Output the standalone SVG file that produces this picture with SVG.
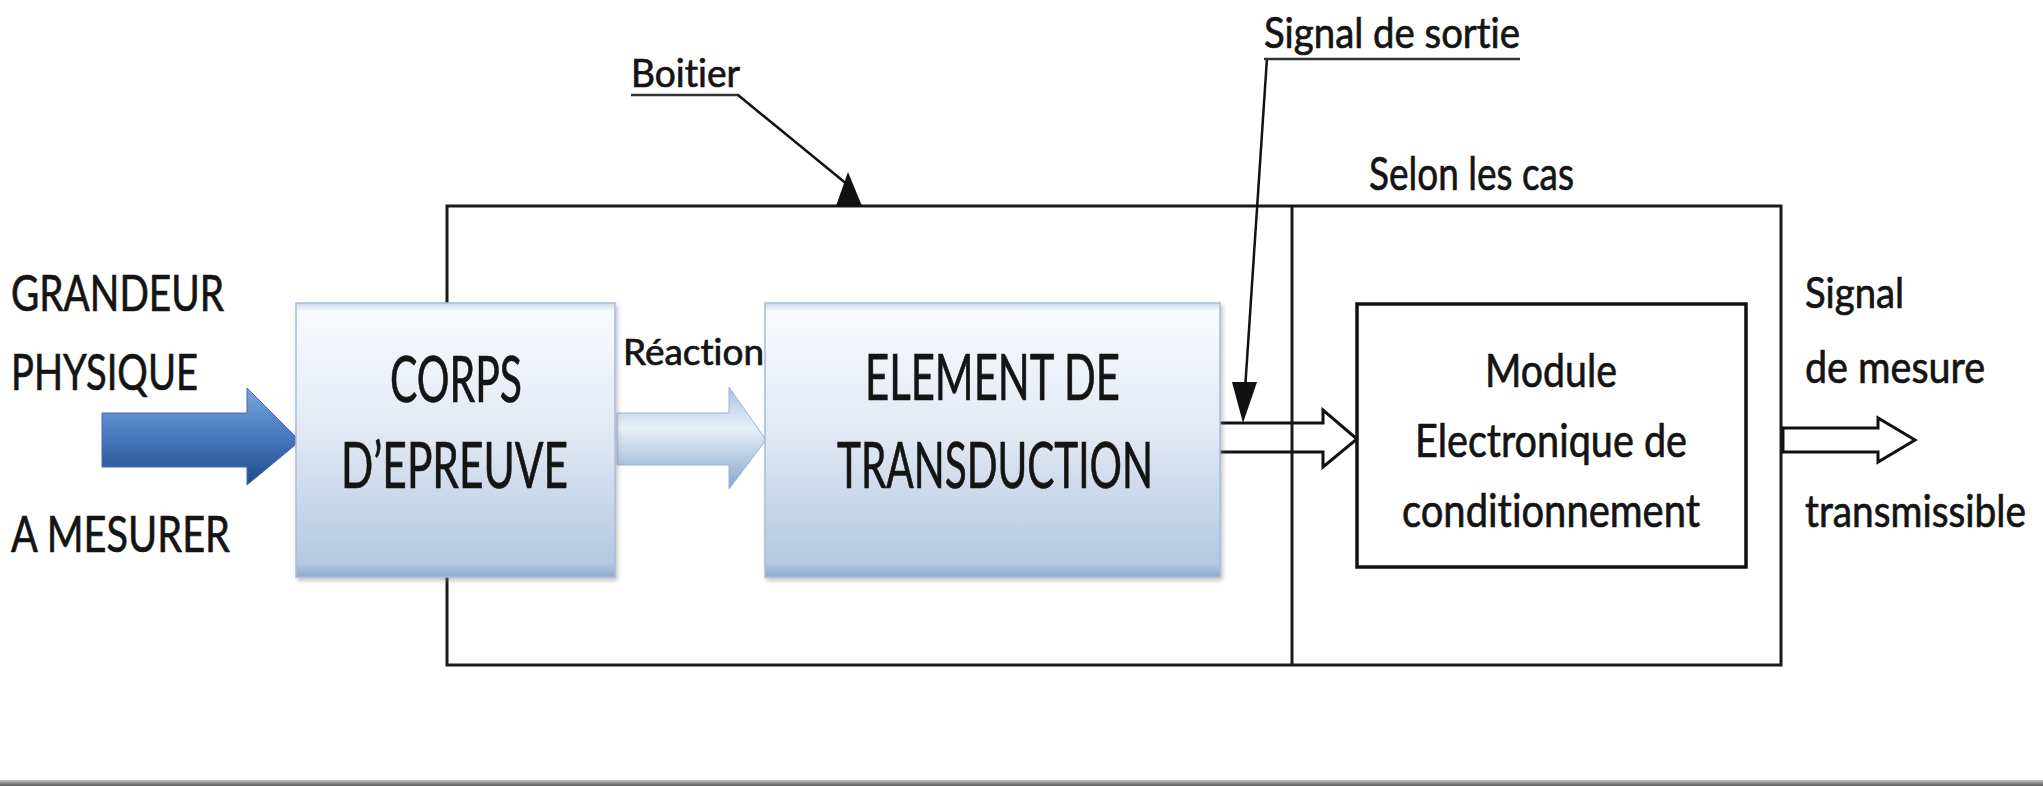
<svg xmlns="http://www.w3.org/2000/svg" width="2043" height="786" viewBox="0 0 2043 786">
<style>
.t{font-family:"Lato","Liberation Sans",sans-serif;fill:#141414;stroke:#141414;stroke-width:0.7;font-variant-ligatures:none;}
.frame{fill:none;stroke:#1a1a1a;stroke-width:3;}
.lead{stroke:#111;stroke-width:2.5;fill:none;}
.head{fill:#111;}
.hollow{fill:#fff;stroke:#111;stroke-width:3;stroke-linejoin:miter;}
.ul{stroke:#333;stroke-width:2.5;}
.bluebox{fill:url(#boxg);stroke:#a7bddb;stroke-width:1.5;filter:url(#sh);}
</style>
<defs>
<linearGradient id="boxg" x1="0" y1="0" x2="0" y2="1">
<stop offset="0" stop-color="#c9d8ec"/>
<stop offset="0.03" stop-color="#f8fafd"/>
<stop offset="0.45" stop-color="#e3eaf4"/>
<stop offset="0.95" stop-color="#b4c8e2"/>
<stop offset="1" stop-color="#8fa8ca"/>
</linearGradient>
<linearGradient id="blueg" x1="0" y1="0" x2="0" y2="1">
<stop offset="0" stop-color="#7aa6e0"/>
<stop offset="0.45" stop-color="#4b7dc2"/>
<stop offset="1" stop-color="#1f4b88"/>
</linearGradient>
<linearGradient id="reacg" x1="0" y1="0" x2="0" y2="1">
<stop offset="0" stop-color="#a9c1e2"/>
<stop offset="0.4" stop-color="#e8eff8"/>
<stop offset="1" stop-color="#87a5cf"/>
</linearGradient>
<linearGradient id="barg" x1="0" y1="0" x2="0" y2="1">
<stop offset="0" stop-color="#c8c8c8"/>
<stop offset="0.5" stop-color="#8a8a8a"/>
<stop offset="1" stop-color="#5a5a5a"/>
</linearGradient>
<filter id="sh" x="-5%" y="-5%" width="112%" height="115%">
<feDropShadow dx="2" dy="3" stdDeviation="2" flood-color="#7a7a7a" flood-opacity="0.45"/>
</filter>
</defs>

<rect x="0" y="780" width="2043" height="6" fill="url(#barg)"/>

<g id="boitier">
<rect class="frame" x="447" y="206" width="1334" height="459"/>
<text class="t" x="631" y="87" font-size="38" textLength="109" lengthAdjust="spacingAndGlyphs">Boitier</text>
<line class="ul" x1="631" y1="95" x2="739" y2="95"/>
</g>

<g id="entree">
<text class="t" x="11" y="311" font-size="50" textLength="213" lengthAdjust="spacingAndGlyphs">GRANDEUR</text>
<text class="t" x="11" y="390" font-size="50" textLength="187" lengthAdjust="spacingAndGlyphs">PHYSIQUE</text>
<text class="t" x="11" y="552" font-size="50" textLength="219" lengthAdjust="spacingAndGlyphs">A MESURER</text>
</g>

<g id="connectors">
<polygon points="102,413 247,413 247,388 300,441 247,485 247,467 102,467" fill="url(#blueg)" stroke="#3f6db0" stroke-width="1"/>
<polygon points="617,413 729,413 729,387 766,440 729,489 729,465 617,465" fill="url(#reacg)" stroke="#9bb4d8" stroke-width="1"/>
<polygon class="hollow" points="1217,423 1323,423 1323,410 1357,439 1323,467 1323,452 1217,452"/>
<polygon class="hollow" points="1783,428 1878,428 1878,418 1915,440 1878,462 1878,452 1783,452"/>
<line class="lead" x1="738" y1="95" x2="848" y2="185"/>
<polygon class="head" points="848,172 836,206 862,206"/>
<line class="lead" x1="1267" y1="58" x2="1245" y2="390"/>
<polygon class="head" points="1243,423 1232,382 1257,382"/>
</g>

<g id="selon_les_cas">
<line class="frame" x1="1292" y1="206" x2="1292" y2="665"/>
<text class="t" x="1369" y="190" font-size="47" textLength="205" lengthAdjust="spacingAndGlyphs">Selon les cas</text>
</g>

<g id="signal_sortie">
<text class="t" x="1264" y="48" font-size="43" textLength="256" lengthAdjust="spacingAndGlyphs">Signal de sortie</text>
<line class="ul" x1="1264" y1="59" x2="1520" y2="59"/>
</g>

<g id="reaction">
<text class="t" x="623" y="365" font-size="36" textLength="141" lengthAdjust="spacingAndGlyphs">Réaction</text>
</g>

<g id="corps_epreuve">
<rect class="bluebox" x="296" y="303" width="319" height="274"/>
<text class="t" x="390" y="402" font-size="63" textLength="132" lengthAdjust="spacingAndGlyphs">CORPS</text>
<text class="t" x="341" y="488" font-size="63" textLength="227" lengthAdjust="spacingAndGlyphs">D’EPREUVE</text>
</g>

<g id="element_transduction">
<rect class="bluebox" x="765" y="303" width="455" height="274"/>
<text class="t" x="865" y="400" font-size="63" textLength="255" lengthAdjust="spacingAndGlyphs">ELEMENT DE</text>
<text class="t" x="837" y="488" font-size="63" textLength="316" lengthAdjust="spacingAndGlyphs">TRANSDUCTION</text>
</g>

<g id="module">
<rect x="1357" y="304" width="389" height="263" fill="#fff" stroke="#111" stroke-width="3.5"/>
<text class="t" x="1485" y="387" font-size="47" textLength="132" lengthAdjust="spacingAndGlyphs">Module</text>
<text class="t" x="1415" y="457" font-size="46" textLength="272" lengthAdjust="spacingAndGlyphs">Electronique de</text>
<text class="t" x="1402" y="527" font-size="46" textLength="298" lengthAdjust="spacingAndGlyphs">conditionnement</text>
</g>

<g id="sortie">
<text class="t" x="1805" y="308" font-size="43" textLength="99" lengthAdjust="spacingAndGlyphs">Signal</text>
<text class="t" x="1805" y="383" font-size="45" textLength="180" lengthAdjust="spacingAndGlyphs">de mesure</text>
<text class="t" x="1805" y="527" font-size="45" textLength="221" lengthAdjust="spacingAndGlyphs">transmissible</text>
</g>
</svg>
